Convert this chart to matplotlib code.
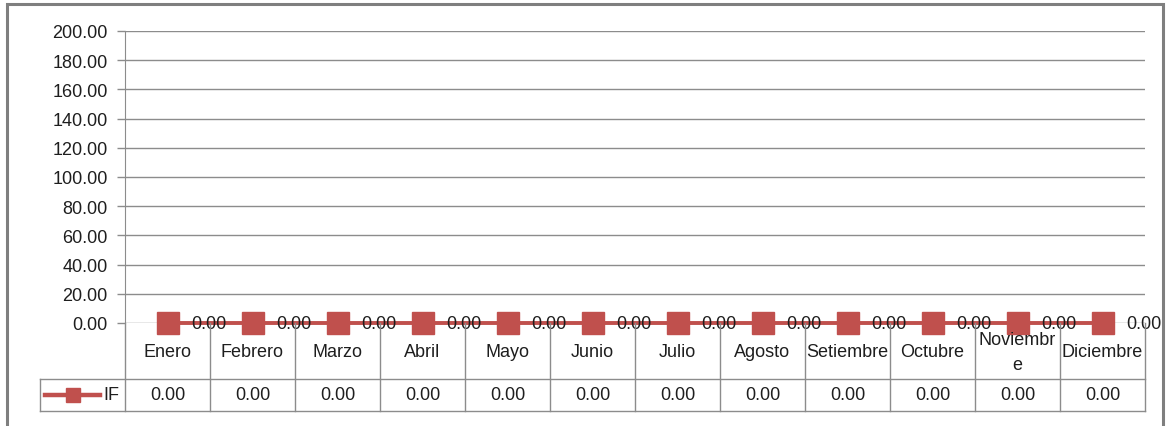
import matplotlib.pyplot as plt
from matplotlib.patches import Rectangle

meses = ['Enero', 'Febrero', 'Marzo', 'Abril', 'Mayo', 'Junio', 'Julio',
         'Agosto', 'Setiembre', 'Octubre', 'Noviembr\ne', 'Diciembre']
valores_if = [0.00, 0.00, 0.00, 0.00, 0.00, 0.00, 0.00, 0.00, 0.00, 0.00, 0.00, 0.00]
serie = 'IF'
y_ticks = [0, 20, 40, 60, 80, 100, 120, 140, 160, 180, 200]

ROJO = '#C0504D'
GRIS = '#8c8c8c'
TXT = '#1e1e1e'
plt.rcParams['font.family'] = ['Liberation Sans', 'DejaVu Sans']
FS = 13

W, H = 1171, 427
fig = plt.figure(figsize=(W / 100, H / 100), dpi=100)

def px(left, top, right, bottom):
    return [left / W, 1 - bottom / H, (right - left) / W, (bottom - top) / H]

# marco exterior
fig.patches.append(Rectangle((6.5 / W, -0.1), (1163 - 6.5) / W, 1.1 - 5.5 / H,
                             transform=fig.transFigure, fill=False,
                             edgecolor='#7f7f7f', linewidth=2.2))

# area del grafico
ax = fig.add_axes(px(125, 32, 1145, 324))
n = len(meses)
xs = [i + 0.5 for i in range(n)]
ax.set_xlim(0, n)
ax.set_ylim(0, 200)
ax.set_yticks(y_ticks)
ax.set_yticklabels([f'{v:.2f}' for v in y_ticks], fontsize=FS, color=TXT)
ax.tick_params(axis='y', length=6, color=GRIS, width=1, pad=6.5)
ax.set_xticks([])
for s in ['top', 'right', 'bottom']:
    ax.spines[s].set_visible(False)
ax.spines['left'].set_color(GRIS)
ax.grid(axis='y', color=GRIS, linewidth=1)
ax.set_axisbelow(True)

ax.plot(xs, valores_if, color=ROJO, linewidth=2.8, marker='s',
        markersize=15.5, clip_on=False, zorder=3)
for x, v in zip(xs, valores_if):
    ax.annotate(f'{v:.2f}', (x, v), xytext=(17, -0.5), textcoords='offset points',
                ha='left', va='center', fontsize=FS, color=TXT,
                annotation_clip=False, zorder=4)

# tabla de datos bajo el grafico
tb = fig.add_axes(px(40, 324, 1145, 412))
tb.set_xlim(-1, n)
tb.set_ylim(0, 88)
tb.axis('off')
lw = dict(color=GRIS, linewidth=1, clip_on=False)
tb.plot([-1, n], [0, 0], **lw)
tb.plot([-1, n], [32, 32], **lw)
tb.plot([-1, -1], [0, 32], **lw)
for i in range(n + 1):
    tb.plot([i, i], [0, 88], **lw)

for x, mes, v in zip(xs, meses, valores_if):
    tb.text(x, 59, mes, ha='center', va='center', fontsize=FS,
            color=TXT, linespacing=1.6)
    tb.text(x, 16, f'{v:.2f}', ha='center', va='center', fontsize=FS, color=TXT)

# clave de la serie
tb.plot([-0.94, -0.30], [16, 16], color=ROJO, linewidth=3.2, clip_on=False)
tb.plot([-0.615], [16], marker='s', markersize=9.7, color=ROJO, clip_on=False)
tb.text(-0.26, 16, serie, ha='left', va='center', fontsize=FS, color=TXT)

fig.savefig('out.png', dpi=100)
